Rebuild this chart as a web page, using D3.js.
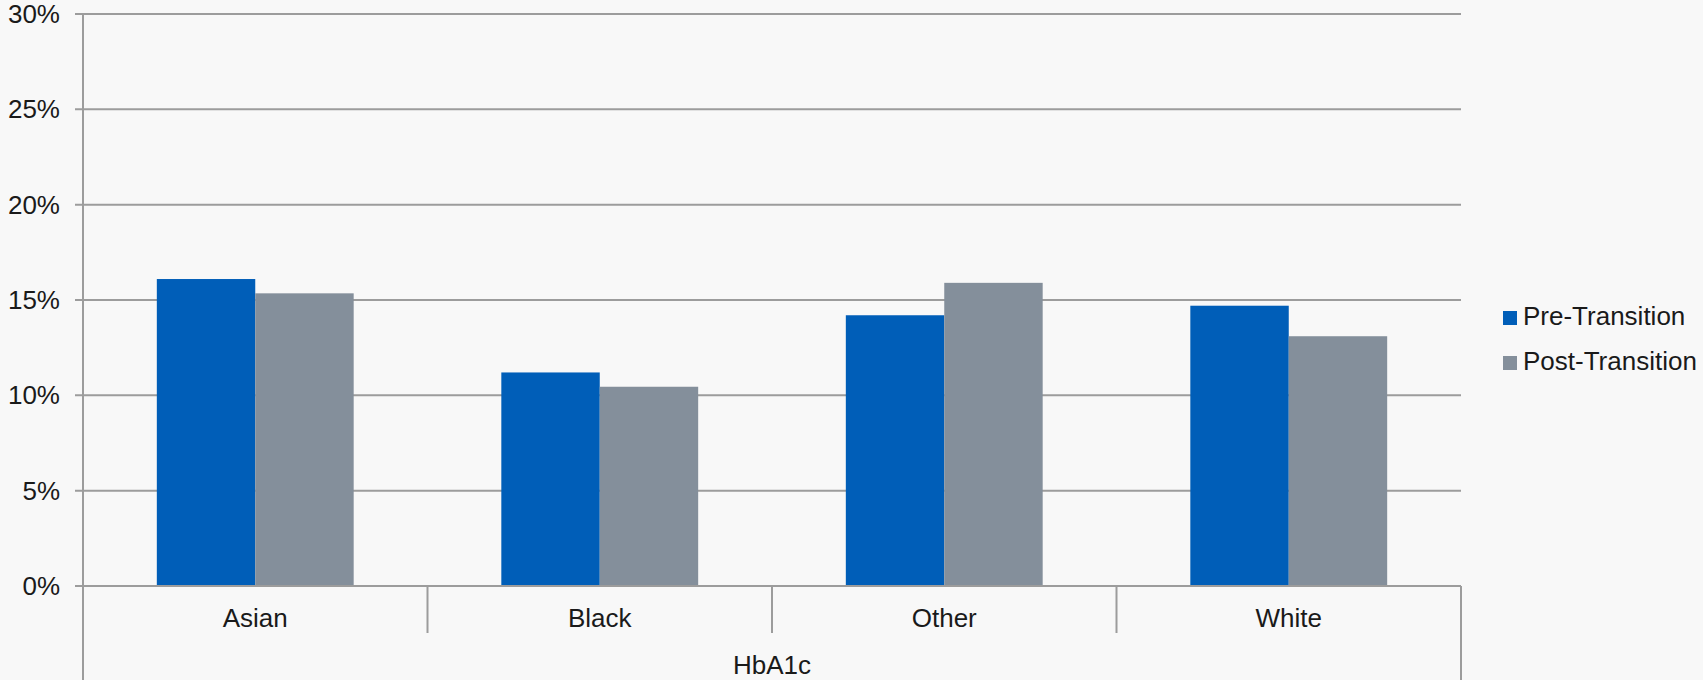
<!DOCTYPE html>
<html>
<head>
<meta charset="utf-8">
<script src="https://cdn.jsdelivr.net/npm/d3@7"></script>
<style>
  html, body { margin: 0; padding: 0; background: #f8f8f8; }
  svg { display: block; }
  text { font-family: "Liberation Sans", Arial, sans-serif; fill: #1a1a1a; }
</style>
</head>
<body>
<svg id="chart" width="1703" height="680"></svg>
<script>
const categories = ["Asian", "Black", "Other", "White"];
const groupLabel = "HbA1c";
const seriesNames = ["Pre-Transition", "Post-Transition"];
const preTransition = [16.1, 11.2, 14.2, 14.7];
const postTransition = [15.35, 10.45, 15.9, 13.1];
const yTicks = [0, 5, 10, 15, 20, 25, 30];
const colors = ["#005eb8", "#848f9b"];

(function () {
const svg = d3.select("#chart");
const mLeft = 83, mRight = 1461, mTop = 14, mBottom = 586;
const lineColor = "#9c9c9c";
const fontSize = 26;

const x = d3.scaleBand().domain(categories).range([mLeft, mRight]).paddingInner(0).paddingOuter(0);
const xs = d3.scaleBand().domain(seriesNames).range([0, x.bandwidth()]).paddingInner(0).paddingOuter(0.75);
const y = d3.scaleLinear().domain([0, 30]).range([mBottom, mTop]);

// gridlines
svg.append("g").selectAll("line").data(yTicks).join("line")
  .attr("x1", mLeft - 8).attr("x2", mRight)
  .attr("y1", d => y(d)).attr("y2", d => y(d))
  .attr("stroke", lineColor).attr("stroke-width", 2);

// y labels
svg.append("g").selectAll("text").data(yTicks).join("text")
  .attr("x", 60).attr("y", d => y(d))
  .attr("dy", "0.35em")
  .attr("text-anchor", "end")
  .attr("font-size", fontSize)
  .text(d => d + "%");

// bars
const values = [preTransition, postTransition];
seriesNames.forEach((s, si) => {
  svg.append("g").selectAll("rect").data(categories).join("rect")
    .attr("x", c => x(c) + xs(s))
    .attr("width", xs.bandwidth())
    .attr("y", (c, i) => y(values[si][i]))
    .attr("height", (c, i) => y(0) - y(values[si][i]))
    .attr("fill", colors[si]);
});

// y axis line
svg.append("line").attr("x1", mLeft).attr("x2", mLeft).attr("y1", mTop).attr("y2", 680)
  .attr("stroke", lineColor).attr("stroke-width", 2);
// right edge line
svg.append("line").attr("x1", mRight).attr("x2", mRight).attr("y1", mBottom).attr("y2", 680)
  .attr("stroke", lineColor).attr("stroke-width", 2);
// separators
svg.append("g").selectAll("line").data(categories.slice(1)).join("line")
  .attr("x1", c => x(c)).attr("x2", c => x(c))
  .attr("y1", mBottom).attr("y2", 633)
  .attr("stroke", lineColor).attr("stroke-width", 2);
// baseline
svg.append("line").attr("x1", mLeft - 8).attr("x2", mRight).attr("y1", mBottom).attr("y2", mBottom)
  .attr("stroke", lineColor).attr("stroke-width", 2);

// category labels
svg.append("g").selectAll("text").data(categories).join("text")
  .attr("x", c => x(c) + x.bandwidth() / 2)
  .attr("y", 627)
  .attr("text-anchor", "middle")
  .attr("font-size", fontSize)
  .text(c => c);

svg.append("text").attr("x", (mLeft + mRight) / 2).attr("y", 674)
  .attr("text-anchor", "middle").attr("font-size", fontSize).text(groupLabel);

// legend
const legend = svg.append("g").selectAll("g").data(seriesNames).join("g")
  .attr("transform", (d, i) => `translate(1503, ${311 + i * 45})`);
legend.append("rect").attr("width", 14).attr("height", 14).attr("fill", (d, i) => colors[i]);
legend.append("text").attr("x", 20).attr("y", 14).attr("font-size", fontSize).text(d => d);
})();
</script>
</body>
</html>
